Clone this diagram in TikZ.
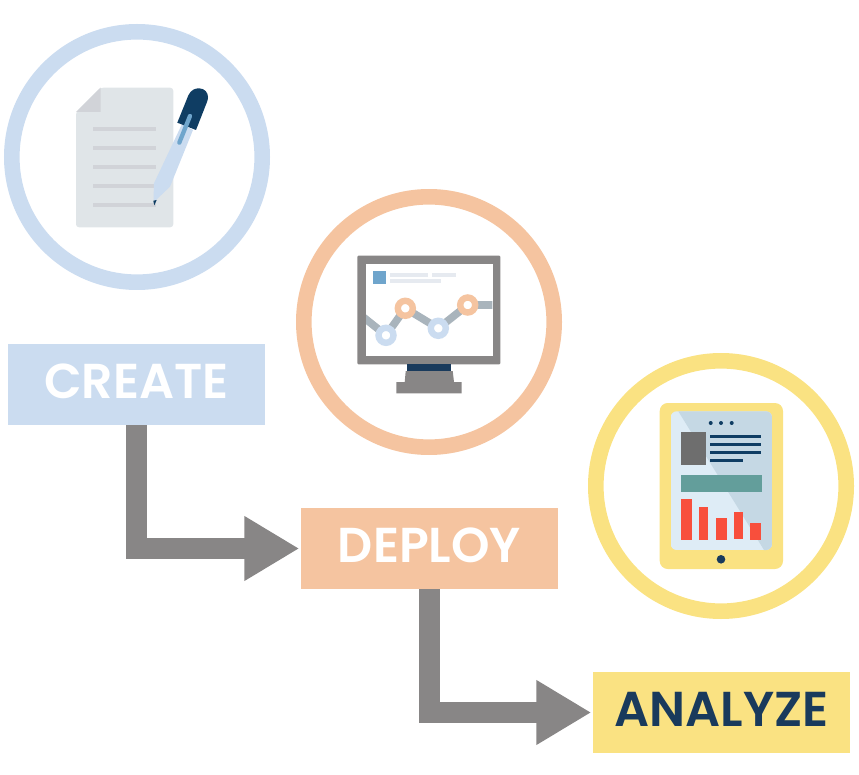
\documentclass[tikz,border=0pt]{standalone}
\usepackage{fontspec}
\setmainfont{Poppins}[BoldFont={Poppins SemiBold}]
\usepackage{xcolor}
\usetikzlibrary{arrows.meta}
\definecolor{createblue}{HTML}{CBDCF0}
\definecolor{deploypeach}{HTML}{F5C4A0}
\definecolor{analyzeyellow}{HTML}{FAE282}
\definecolor{flowgray}{HTML}{888686}
\definecolor{navy}{HTML}{193A5C}
\definecolor{iconnavy}{HTML}{0F3D63}
\definecolor{pagegray}{HTML}{E0E5E8}
\definecolor{foldgray}{HTML}{D1D3D8}
\definecolor{clipblue}{HTML}{6FA5CC}
\definecolor{plotgray}{HTML}{A9B4BC}
\definecolor{barlight}{HTML}{E6EAF0}
\definecolor{screenlight}{HTML}{DEECF6}
\definecolor{screendark}{HTML}{C5D8E4}
\definecolor{teal}{HTML}{639E9B}
\definecolor{barred}{HTML}{F84F3C}
\definecolor{photogray}{HTML}{6E6E6E}
\tikzset{
  ring/.style={line width=15.6pt},
  stepbox/.style={minimum width=257pt, minimum height=81pt, inner sep=0pt, text height=35pt, text depth=7pt, font=\fontsize{49}{49}\selectfont\bfseries},
  flowline/.style={draw=flowgray, line width=21.4pt, -{Triangle[length=55pt,width=61pt]}, shorten >=1.5pt},
  plotdot/.style={fill=white, line width=6.4pt},
}

\begin{document}
\begin{tikzpicture}[x=1pt,y=-1pt]
  \useasboundingbox (0,0) rectangle (859,775);

  \draw[ring,draw=createblue] (137,157) circle (125.2);
  \draw[ring,draw=deploypeach] (429,322) circle (125.2);
  \draw[ring,draw=analyzeyellow] (721,486) circle (125.2);

  \node[stepbox,fill=createblue,text=white] (create) at (136.5,384.5) {CREATE};
  \node[stepbox,fill=deploypeach,text=white] (deploy) at (429.5,548.5) {DEPLOY};
  \node[stepbox,fill=analyzeyellow,text=navy] (analyze) at (721.5,712.5) {ANALYZE};

  \draw[flowline] (create.south) |- (deploy.west);
  \draw[flowline] (deploy.south) |- (analyze.west);

  % document and pen
  \fill[pagegray,rounded corners=3pt] (76,112) -- (100.5,87.7) -- (173.3,87.7) -- (173.3,227.3) -- (76,227.3) -- cycle;
  \fill[foldgray] (76,112) -- (100.5,87.7) -- (100.5,112) -- cycle;
  \foreach \y in {129,148,167,186,205}
    \fill[foldgray] (93,\y-2) rectangle (156,\y+2);
  \fill[createblue] (182,124) -- (193,130) -- (170,186.7) -- (156,200) -- (153.5,200) -- (154,183.3) -- cycle;
  \fill[iconnavy] (177.3,122.7) -- (188.5,95) .. controls (191,90) and (195,88.3) .. (199,88.3)
    .. controls (205,88.3) and (208,93) .. (208,97) .. controls (208,99) and (207.5,101) .. (207,102)
    -- (196,130) -- cycle;
  \fill[iconnavy] (153.3,200.7) -- (156.7,200) -- (154.3,205.3) -- cycle;
  \draw[clipblue,line width=4.3pt,line cap=round] (190,116) -- (179.3,142.7);

  % monitor
  \fill[flowgray,rounded corners=1pt] (357.3,255.7) rectangle (500.3,364.3);
  \fill[white] (366,264) rectangle (493,355.7);
  \fill[navy] (406.7,364.3) rectangle (451.3,371);
  \fill[flowgray] (405.7,371) -- (452.7,371) -- (454,382) -- (461.7,382) -- (461.7,393.3) -- (396.3,393.3) -- (396.3,382) -- (404.7,382) -- cycle;
  \fill[clipblue] (373,271) rectangle (386,284.3);
  \fill[barlight] (390,273) rectangle (428,277);
  \fill[barlight] (432,273) rectangle (456,277);
  \fill[barlight] (390,279) rectangle (441,283);
  \begin{scope}
    \clip (366,264) rectangle (492.3,355.7);
    \draw[plotgray,line width=7.6pt] (360,314.5) -- (386,335.3) -- (405.3,308.3) -- (438.3,328.3) -- (467.7,305) -- (500,305);
  \end{scope}
  \draw[plotdot,draw=createblue] (386,335.3) circle (7.5);
  \draw[plotdot,draw=deploypeach] (405.3,308.3) circle (7.5);
  \draw[plotdot,draw=createblue] (438.3,328.3) circle (7.5);
  \draw[plotdot,draw=deploypeach] (467.7,305) circle (7.5);

  % tablet
  \fill[analyzeyellow,rounded corners=8pt] (659.7,403) rectangle (783,569);
  \begin{scope}
    \clip[rounded corners=6pt] (670.7,411.3) rectangle (772,550);
    \fill[screenlight] (670.7,411.3) rectangle (772,550);
    \fill[screendark] (678.3,411.3) -- (772,411.3) -- (772,550) -- (764,550) -- cycle;
  \end{scope}
  \foreach \x in {710.7,721,731.7}
    \fill[iconnavy] (\x,423) circle (2);
  \fill[photogray] (681,432.3) rectangle (706,465.3);
  \foreach \y in {436.7,444.7,452.7}
    \fill[iconnavy] (710,\y-1.5) rectangle (761,\y+1.5);
  \fill[iconnavy] (710,459.2) rectangle (743,462.2);
  \fill[teal] (681,475.3) rectangle (762,492);
  \fill[barred] (681,499.3) rectangle (692,540.3);
  \fill[barred] (699,507.3) rectangle (708,540.3);
  \fill[barred] (716,518.3) rectangle (727,540.3);
  \fill[barred] (734,512.3) rectangle (743,539.3);
  \fill[barred] (750,523.3) rectangle (761,540.3);
  \fill[navy] (721,559.3) circle (4.3);
\end{tikzpicture}
\end{document}
